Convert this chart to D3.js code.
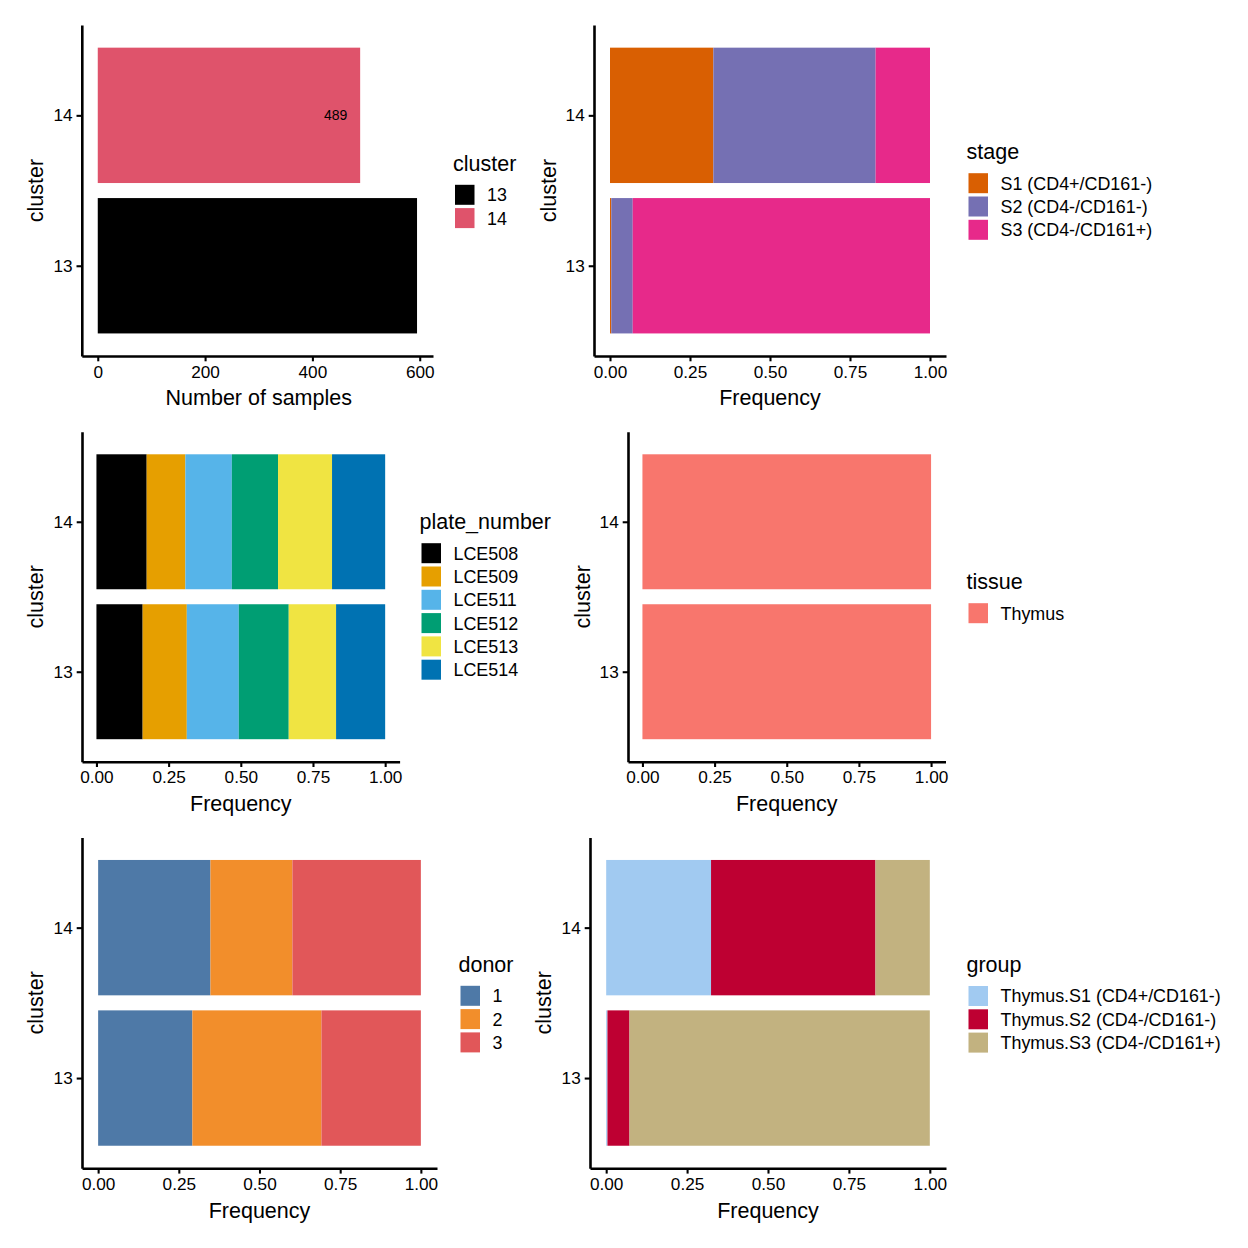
<!DOCTYPE html>
<html>
<head>
<meta charset="utf-8">
<script src="https://cdn.jsdelivr.net/npm/d3@7"></script>
<style>
  html, body { margin: 0; padding: 0; background: #ffffff; }
  svg { display: block; }
  text { font-family: "Liberation Sans", Arial, Helvetica, sans-serif; fill: #000; }
</style>
</head>
<body>
<svg id="chart" width="1248" height="1248"></svg>
<script>
// ---------------- data ----------------
const clusters = ["13", "14"];

const sampleCounts = [595, 489];
const clusterColors = ["#000000", "#DF536B"];
const countTicks = [0, 200, 400, 600];

const stageLevels = ["S1 (CD4+/CD161-)", "S2 (CD4-/CD161-)", "S3 (CD4-/CD161+)"];
const stage13 = [0.004, 0.067, 0.929];
const stage14 = [0.323, 0.507, 0.170];
const stageColors = ["#D95F02", "#7570B3", "#E7298A"];

const plateLevels = ["LCE508", "LCE509", "LCE511", "LCE512", "LCE513", "LCE514"];
const plate13 = [0.160, 0.153, 0.180, 0.173, 0.164, 0.170];
const plate14 = [0.174, 0.134, 0.161, 0.160, 0.187, 0.184];
const plateColors = ["#000000", "#E69F00", "#56B4E9", "#009E73", "#F0E442", "#0072B2"];

const tissueLevels = ["Thymus"];
const tissue13 = [1.0];
const tissue14 = [1.0];
const tissueColors = ["#F8766D"];

const donorLevels = ["1", "2", "3"];
const donor13 = [0.292, 0.400, 0.308];
const donor14 = [0.348, 0.254, 0.398];
const donorColors = ["#4E79A7", "#F28E2B", "#E15759"];

const groupLevels = ["Thymus.S1 (CD4+/CD161-)", "Thymus.S2 (CD4-/CD161-)", "Thymus.S3 (CD4-/CD161+)"];
const group13 = [0.004, 0.068, 0.928];
const group14 = [0.324, 0.508, 0.168];
const groupColors = ["#A1CAF1", "#BE0032", "#C2B280"];

const freqTicks = [0, 0.25, 0.5, 0.75, 1];

// ---------------- drawing ----------------
const svg = d3.select("#chart");
const TITLE_FS = 21.5, TEXT_FS = 17.2, LEG_FS = 17.9, AXIS_W = 2.6, TICK_LEN = 5.3, KEY_W = 19.5, KEY_H = 20, KEY_PITCH = 23.3;

function drawPanel(cfg) {
  const g = svg.append("g");
  const x = d3.scaleLinear().domain(cfg.xDomain).range([cfg.left, cfg.right]);
  const y = d3.scaleLinear().domain([0.4, 2.6]).range([cfg.bottom, cfg.top]);

  // bars (stacked)
  cfg.series.forEach((vals, ci) => {
    const yc = y(ci + 1);
    let acc = 0;
    vals.forEach((v, li) => {
      const col = cfg.colorsByCat ? cfg.colors[ci] : cfg.colors[li];
      g.append("rect")
        .attr("x", x(acc))
        .attr("y", y(ci + 1 + 0.45))
        .attr("width", Math.max(0, x(acc + v) - x(acc)))
        .attr("height", y(ci + 1 - 0.45) - y(ci + 1 + 0.45))
        .attr("fill", col);
      acc += v;
    });
    if (cfg.valueLabels) {
      const t = g.append("text")
        .attr("y", yc)
        .attr("dy", "0.35em")
        .attr("font-size", 14)
        .attr("text-anchor", "middle")
        .text(cfg.valueLabels[ci]);
      const w = t.node().getComputedTextLength();
      t.attr("x", x(vals[0]) - 1.05 * w);
    }
  });

  // x axis
  const xa = g.append("g").attr("transform", `translate(0,${cfg.bottom})`)
    .call(d3.axisBottom(x).tickValues(cfg.ticks).tickFormat(cfg.tickFormat)
      .tickSize(TICK_LEN).tickSizeOuter(0).tickPadding(4));
  xa.select(".domain").attr("stroke-width", AXIS_W).attr("stroke", "#000");
  xa.selectAll(".tick line").attr("stroke-width", AXIS_W * 0.8).attr("stroke", "#000");
  xa.selectAll(".tick text").attr("font-size", TEXT_FS)
    .attr("font-family", "Liberation Sans, Arial, sans-serif").attr("fill", "#000");

  // y axis
  const ya = g.append("g").attr("transform", `translate(${cfg.left},0)`)
    .call(d3.axisLeft(y).tickValues([1, 2]).tickFormat((d) => clusters[d - 1])
      .tickSize(TICK_LEN).tickSizeOuter(0).tickPadding(4));
  ya.select(".domain").attr("stroke-width", AXIS_W).attr("stroke", "#000");
  ya.selectAll(".tick line").attr("stroke-width", AXIS_W * 0.8).attr("stroke", "#000");
  ya.selectAll(".tick text").attr("font-size", TEXT_FS)
    .attr("font-family", "Liberation Sans, Arial, sans-serif").attr("fill", "#000");

  // axis titles
  g.append("text")
    .attr("x", (x(cfg.ticks[0]) + x(cfg.ticks[cfg.ticks.length - 1])) / 2)
    .attr("y", cfg.bottom + 41.5 + 0.36 * TITLE_FS)
    .attr("text-anchor", "middle")
    .attr("font-size", TITLE_FS)
    .text(cfg.xTitle);
  const ymid = (cfg.top + cfg.bottom) / 2;
  g.append("text")
    .attr("transform", `translate(${cfg.yTitleX + 0.36 * TITLE_FS},${ymid}) rotate(-90)`)
    .attr("text-anchor", "middle")
    .attr("font-size", TITLE_FS)
    .text("cluster");

  // legend
  const lg = g.append("g");
  lg.append("text")
    .attr("x", cfg.legendX)
    .attr("y", cfg.legendTitleY + 0.36 * TITLE_FS)
    .attr("font-size", TITLE_FS)
    .text(cfg.legendTitle);
  cfg.levels.forEach((lev, i) => {
    const cy = cfg.legendTitleY + 31.5 + i * KEY_PITCH;
    lg.append("rect")
      .attr("x", cfg.legendX + 2)
      .attr("y", cy - KEY_H / 2)
      .attr("width", KEY_W)
      .attr("height", KEY_H)
      .attr("fill", cfg.colors[i]);
    lg.append("text")
      .attr("x", cfg.legendX + 34)
      .attr("y", cy + 0.36 * LEG_FS)
      .attr("font-size", LEG_FS)
      .text(lev);
  });
}

const fmt2 = d3.format(".2f");
const rows = [[25.1, 356], [431.8, 761.7], [837.4, 1168.3]];
const maxCount = d3.max(sampleCounts);

// P1: counts
drawPanel({
  left: 81.8, right: 433, top: rows[0][0], bottom: rows[0][1],
  xDomain: [-0.05 * maxCount, 1.05 * maxCount], ticks: countTicks, tickFormat: d3.format("d"),
  xTitle: "Number of samples",
  series: sampleCounts.map(v => [v]), colorsByCat: true, colors: clusterColors,
  levels: clusters, legendTitle: "cluster", legendX: 453, legendTitleY: 163.3, yTitleX: 35.5,
  valueLabels: sampleCounts.map(String)
});

// P2: stage
drawPanel({
  left: 594, right: 946, top: rows[0][0], bottom: rows[0][1],
  xDomain: [-0.05, 1.05], ticks: freqTicks, tickFormat: fmt2, xTitle: "Frequency",
  series: [stage13, stage14], colors: stageColors,
  levels: stageLevels, legendTitle: "stage", legendX: 966.5, legendTitleY: 151.7, yTitleX: 548.5
});

// P3: plate
drawPanel({
  left: 82, right: 399.6, top: rows[1][0], bottom: rows[1][1],
  xDomain: [-0.05, 1.05], ticks: freqTicks, tickFormat: fmt2, xTitle: "Frequency",
  series: [plate13, plate14], colors: plateColors,
  levels: plateLevels, legendTitle: "plate_number", legendX: 419.5, legendTitleY: 521.7, yTitleX: 35.5
});

// P4: tissue
drawPanel({
  left: 628, right: 945.5, top: rows[1][0], bottom: rows[1][1],
  xDomain: [-0.05, 1.05], ticks: freqTicks, tickFormat: fmt2, xTitle: "Frequency",
  series: [tissue13, tissue14], colors: tissueColors,
  levels: tissueLevels, legendTitle: "tissue", legendX: 966.5, legendTitleY: 581.7, yTitleX: 582.5
});

// P5: donor
drawPanel({
  left: 82, right: 437, top: rows[2][0], bottom: rows[2][1],
  xDomain: [-0.05, 1.05], ticks: freqTicks, tickFormat: fmt2, xTitle: "Frequency",
  series: [donor13, donor14], colors: donorColors,
  levels: donorLevels, legendTitle: "donor", legendX: 458.5, legendTitleY: 964.3, yTitleX: 35
});

// P6: group
drawPanel({
  left: 590, right: 946, top: rows[2][0], bottom: rows[2][1],
  xDomain: [-0.05, 1.05], ticks: freqTicks, tickFormat: fmt2, xTitle: "Frequency",
  series: [group13, group14], colors: groupColors,
  levels: groupLevels, legendTitle: "group", legendX: 966.5, legendTitleY: 964.5, yTitleX: 543
});
</script>
</body>
</html>
